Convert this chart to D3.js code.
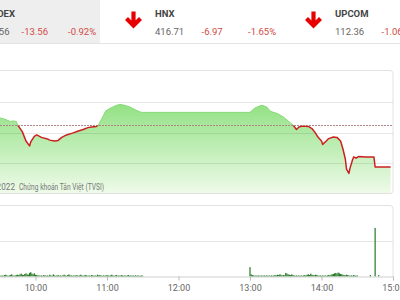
<!DOCTYPE html>
<html>
<head>
<meta charset="utf-8">
<style>
  body { margin: 0; background: #fff; }
  svg { display: block; font-family: Roboto, "Noto Sans", sans-serif; }
</style>
</head>
<body>
<svg width="400" height="300"></svg>

<script src="https://d3js.org/d3.v7.min.js"></script>

<script>
// header boards
var boardNames = ["VNINDEX", "HNX", "UPCOM"];
var boardValues = ["1460.56", "416.71", "112.36"];
var boardChanges = ["-13.56", "-6.97", "-1.06"];
var boardPcts = ["-0.92%", "-1.65%", "-0.93%"];

// intraday index (VNINDEX)
var prevClose = 1472.3;
var indexTimes = ["9:15","9:21","9:30","9:34","9:39","9:41","9:44","9:45","9:49","9:52","9:55","9:56","9:59",
  "10:01","10:05","10:10","10:12","10:16","10:19","10:22","10:26","10:31","10:36","10:40","10:44","10:47","10:51","10:53","10:56","10:59",
  "11:03","11:08","11:11","11:15","11:19","11:24","11:28","11:30",
  "13:00","13:04","13:08","13:10","13:14","13:17","13:19","13:23","13:28","13:32","13:36","13:39","13:41","13:44","13:49","13:52","13:55","13:57",
  "14:00","14:01","14:04","14:06","14:10","14:13","14:16","14:18","14:20","14:21","14:23","14:24","14:26","14:27","14:29","14:31","14:37","14:44","14:45","14:58"];
var indexValues = [1475.1,1475.4,1474.8,1474.4,1473.6,1473.8,1473.6,1472.5,1470.2,1467.2,1465.6,1466.9,1468.7,
  1469.2,1468.4,1467.9,1467.5,1467.2,1467.4,1468.4,1469.2,1469.8,1470.5,1471.0,1471.6,1471.8,1472.0,1472.6,1474.8,1477.1,
  1478.0,1478.9,1479.2,1478.9,1478.4,1477.4,1476.7,1476.6,
  1476.6,1478.0,1478.7,1478.9,1478.4,1477.0,1476.7,1476.2,1475.1,1473.8,1472.5,1471.0,1471.8,1472.1,1472.0,1471.3,1469.8,1468.5,
  1467.2,1466.1,1467.2,1468.0,1468.5,1468.4,1467.2,1464.6,1461.3,1458.0,1456.6,1458.4,1461.0,1462.0,1461.6,1462.1,1462.0,1462.0,1458.7,1458.7];
var gridValues = [1460, 1470, 1480];

// volume, one bar per minute
var volMorningStart = "9:15";
var volMorning = [0.4,0.3,0.5,0.3,0.4,0.3,0.2,0.3,0.4,0.3,0.2,0.3,0.2,0.3,0.2,
  0.3,0.2,0.3,0.2,0.4,0.5,0.3,0.2,0.3,0.4,0.6,0.3,0.2,0.3,0.4,
  0.5,0.4,0.6,0.8,0.5,0.4,0.7,0.9,0.6,0.5,1.0,1.2,0.8,0.6,0.9,
  0.5,0.4,0.3,0.3,0.2,0.3,0.2,0.4,0.3,0.2,0.3,0.2,0.5,0.3,0.2,
  0.6,0.3,0.2,0.3,0.4,0.2,0.3,0.2,0.3,0.5,0.3,0.2,0.4,0.6,0.3,
  0.3,0.2,0.3,0.2,0.4,0.3,0.2,0.3,0.5,0.3,0.2,0.3,0.4,0.3,0.2,
  0.3,0.2,0.4,0.3,0.2,0.3,0.2,0.5,0.3,0.4,0.3,0.2,0.3,0.2,0.3,
  0.4,0.3,0.2,0.3,0.5,0.3,0.2,0.3,0.4,0.2,0.3,0.2,0.4,0.3,0.2,
  0.3,0.2,0.3,0.4,0.2,0.3,0.2,0.3,0.2,0.3,0.2,0.3,0.2,0.2,0.3,0.2];
var volAfternoonStart = "13:00";
var volAfternoon = [2.6,
  0.6,0.4,0.3,0.2,0.3,0.2,0.3,0.2,0.2,0.3,0.2,0.3,0.2,0.3,
  0.2,0.3,0.2,0.3,0.2,0.3,0.4,0.3,0.5,0.4,0.6,0.5,0.3,0.4,0.3,
  1.0,0.8,0.6,0.5,0.4,0.6,0.4,0.3,0.2,0.3,0.2,0.3,0.2,0.3,0.2,
  0.3,0.4,0.3,0.5,0.6,0.4,0.8,0.5,0.4,0.3,0.5,0.4,0.3,0.2,0.3,
  0.2,0.3,0.2,0.3,0.2,0.3,0.4,0.3,0.5,0.6,0.7,0.9,1.0,0.8,1.1,
  0.9,0.7,0.6,0.5,0.4,0.3,0.5,0.4,0.3,0.2,0.3,0.2,0.4,0.3,0.2,0.3];
var volAtcTimes = ["14:41", "14:45", "14:48"];
var volAtc = [0.4, 13.5, 0.4];
var volGrid = [10];

var timeTicks = ["10:00", "11:00", "12:00", "13:00", "14:00", "15:00"];

var svg = d3.select("svg");

function toMin(s) {
  var p = s.split(":");
  return +p[0] * 60 + +p[1];
}

var x = d3.scaleLinear().domain([9 * 60, 15 * 60]).range([-36, 393]);
var y = d3.scaleLinear().domain([1460, 1480]).range([163, 102]);
var yv = d3.scaleLinear().domain([0, 10]).range([276.5, 240.5]);

// ---- header ----
svg.append("rect").attr("x", 0).attr("y", 0).attr("width", 100).attr("height", 43).attr("fill", "#eeeeee");
svg.append("line").attr("x1", 0).attr("x2", 400).attr("y1", 43.5).attr("y2", 43.5).attr("stroke", "#e4e4e4");

var board = svg.selectAll(".board")
    .data(boardNames)
    .enter().append("g")
    .attr("class", "board")
    .attr("transform", function(d, i) { return "translate(" + (-25 + i * 180) + ",0)"; });

// down arrow icon
board.append("path")
    .attr("d", "M-21.5,11.5 V26 M-28.5,18.5 L-21.5,25.5 L-14.5,18.5")
    .attr("fill", "none")
    .attr("stroke", "#e60000")
    .attr("stroke-width", 4.2);
board.append("text")
    .attr("y", 16.5).attr("font-size", 9.5).attr("font-weight", "bold").attr("fill", "#444")
    .text(function(d) { return d; });
board.append("text")
    .attr("y", 35).attr("font-size", 9.5).attr("fill", "#666")
    .text(function(d, i) { return boardValues[i]; });
board.append("text")
    .attr("x", 46.5).attr("y", 35).attr("font-size", 9.5).attr("fill", "#d24a45")
    .text(function(d, i) { return boardChanges[i]; });
board.append("text")
    .attr("x", 93).attr("y", 35).attr("font-size", 9.5).attr("fill", "#d24a45")
    .text(function(d, i) { return boardPcts[i]; });

// ---- price panel ----
var defs = svg.append("defs");
var grad = defs.append("linearGradient")
    .attr("id", "areaFill").attr("gradientUnits", "userSpaceOnUse")
    .attr("x1", 0).attr("x2", 0).attr("y1", 100).attr("y2", 194);
grad.append("stop").attr("offset", "0").attr("stop-color", "#8ee07f");
grad.append("stop").attr("offset", "1").attr("stop-color", "#effbea");

var refY = y(prevClose);
defs.append("clipPath").attr("id", "below").append("rect")
    .attr("x", -50).attr("y", refY).attr("width", 500).attr("height", 200);
defs.append("clipPath").attr("id", "above").append("rect")
    .attr("x", -50).attr("y", 0).attr("width", 500).attr("height", refY);

svg.append("rect")
    .attr("x", -30).attr("y", 70.5).attr("width", 423).attr("height", 123)
    .attr("rx", 3).attr("fill", "#fff").attr("stroke", "#e2e2e2");

var pts = indexTimes.map(function(t, i) { return [toMin(t), indexValues[i]]; });

svg.append("path")
    .datum(pts)
    .attr("fill", "url(#areaFill)")
    .attr("d", d3.area()
      .x(function(d) { return x(d[0]); })
      .y0(193)
      .y1(function(d) { return y(d[1]); }));

svg.selectAll(".grid")
    .data(gridValues)
    .enter().append("line")
    .attr("class", "grid")
    .attr("x1", -30).attr("x2", 393)
    .attr("y1", function(d) { return Math.round(y(d)) + 0.5; })
    .attr("y2", function(d) { return Math.round(y(d)) + 0.5; })
    .attr("stroke", "rgba(0,0,0,0.09)");

svg.append("line")
    .attr("x1", -30).attr("x2", 393).attr("y1", refY).attr("y2", refY)
    .attr("stroke", "#b08585").attr("stroke-dasharray", "2,1");

var line = d3.line()
    .x(function(d) { return x(d[0]); })
    .y(function(d) { return y(d[1]); });

svg.append("path").datum(pts)
    .attr("clip-path", "url(#above)")
    .attr("fill", "none").attr("stroke", "#86d977").attr("stroke-width", 1)
    .attr("d", line);
svg.append("path").datum(pts)
    .attr("clip-path", "url(#below)")
    .attr("fill", "none").attr("stroke", "#cc2020").attr("stroke-width", 1.5)
    .attr("stroke-linejoin", "round")
    .attr("d", line);

// watermark (left part runs off the edge)
svg.append("text")
    .attr("x", 15).attr("y", 190).attr("text-anchor", "end")
    .attr("font-size", 8.2).attr("fill", "#777")
    .text("© 2022");
svg.append("text")
    .attr("x", 19).attr("y", 190)
    .attr("font-size", 8.2).attr("fill", "#777")
    .attr("textLength", 85).attr("lengthAdjust", "spacingAndGlyphs")
    .text("Chứng khoán Tân Việt (TVSI)");

// ---- volume panel ----
svg.append("path")
    .attr("d", "M-30,205.5 H390 a3,3 0 0 1 3,3 V276.5")
    .attr("fill", "none").attr("stroke", "#e2e2e2");

svg.selectAll(".vgrid")
    .data(volGrid)
    .enter().append("line")
    .attr("class", "vgrid")
    .attr("x1", -30).attr("x2", 393)
    .attr("y1", function(d) { return Math.round(yv(d)) + 0.5; })
    .attr("y2", function(d) { return Math.round(yv(d)) + 0.5; })
    .attr("stroke", "#e6e6e6");

var bars = [];
volMorning.forEach(function(v, i) { bars.push([toMin(volMorningStart) + i, v]); });
volAfternoon.forEach(function(v, i) { bars.push([toMin(volAfternoonStart) + i, v]); });
volAtcTimes.forEach(function(t, i) { bars.push([toMin(t), volAtc[i]]); });

svg.selectAll(".vol")
    .data(bars)
    .enter().append("rect")
    .attr("class", "vol")
    .attr("x", function(d) { return x(d[0]) - 0.6; })
    .attr("width", 1.2)
    .attr("y", function(d) { return yv(d[1]); })
    .attr("height", function(d) { return yv(0) - yv(d[1]); })
    .attr("fill", "#267a26");

var xAxis = svg.append("g")
    .attr("transform", "translate(0,276.5)")
    .call(d3.axisBottom(x)
      .tickValues(timeTicks.map(toMin))
      .tickSize(4)
      .tickFormat(function(d, i) { return timeTicks[i]; }));
xAxis.select(".domain").attr("stroke", "#cfcfcf");
xAxis.selectAll(".tick line").attr("stroke", "#bbb");
xAxis.selectAll(".tick text")
    .attr("fill", "#666").attr("font-size", 9).attr("font-family", "Roboto, sans-serif").attr("dy", "0.85em");
</script>
</body>
</html>
